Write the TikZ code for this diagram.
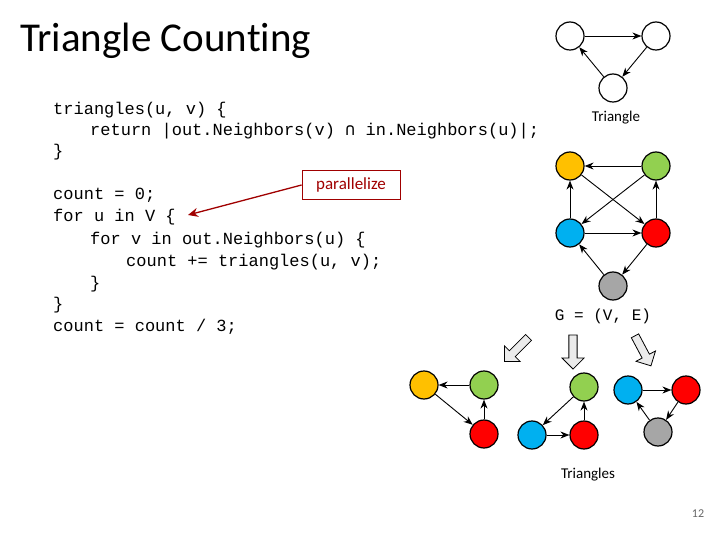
\documentclass[tikz,border=0pt]{standalone}
\usepackage{fontspec}
\setmainfont[Ligatures=NoCommon]{Carlito}
\setmonofont{Liberation Mono}
\newfontfamily\capfont{DejaVu Sans Mono}
\usetikzlibrary{arrows.meta,shapes.arrows}
\definecolor{cyel}{HTML}{FFC000}
\definecolor{cgrn}{HTML}{92D050}
\definecolor{cblu}{HTML}{00B0F0}
\definecolor{cred}{HTML}{FF0000}
\definecolor{cgry}{HTML}{A6A6A6}
\definecolor{dred}{HTML}{A00000}
\begin{document}
\begin{tikzpicture}[x=1pt,y=-1pt,
  vtx/.style={circle,draw=black,line width=1.2pt,minimum size=28pt,inner sep=0pt},
  ed/.style={-{Stealth[length=9pt,width=7pt]},line width=0.9pt},
  code/.style={anchor=base west,inner sep=0pt,font=\ttfamily\fontsize{17}{18}\selectfont},
  barrow/.style={single arrow,draw=black,fill=black!8,line width=0.8pt,minimum height=34pt,minimum width=22pt,single arrow head extend=4pt,inner sep=2pt}]
\useasboundingbox (0,0) rectangle (720,540);
\node[anchor=base west,inner sep=0pt,font=\fontsize{41}{43}\selectfont] (title) at (20,52) {Triangle Counting};
\node[code] (c1) at (53,115) {triangles(u, v) \{};
\node[code] (c2) at (90,136) {return |out.Neighbors(v) {\capfont ∩} in.Neighbors(u)|;};
\node[code] (c3) at (53,157) {\}};
\node[code] (c4) at (53,200) {count = 0;};
\node[code] (c5) at (53,222) {for u in V \{};
\node[code] (c6) at (90,244) {for v in out.Neighbors(u) \{};
\node[code] (c7) at (126,266) {count += triangles(u, v);};
\node[code] (c8) at (90,288) {\}};
\node[code] (c9) at (53,309) {\}};
\node[code] (c10) at (53,331) {count = count / 3;};
\node[draw=dred,line width=0.8pt,text=dred,font=\fontsize{17}{18}\selectfont,minimum width=98pt,minimum height=29pt,inner sep=1pt] (par) at (351,185) {parallelize};
\coordinate (pt) at (188,215);
\draw[-{Stealth[length=10pt,width=9pt]},dred,line width=1.3pt] (par.west) -- (pt);
% triangle
\node[vtx] (t1) at (570,36) {};
\node[vtx] (t2) at (656,36) {};
\node[vtx] (t3) at (613,88) {};
\draw[ed] (t1) -- (t2); \draw[ed] (t2) -- (t3); \draw[ed] (t3) -- (t1);
\node[font=\fontsize{15}{16}\selectfont] (tl) at (616,118) {Triangle};
% main graph
\node[vtx,fill=cyel] (y) at (570,166) {};
\node[vtx,fill=cgrn] (g) at (656,166) {};
\node[vtx,fill=cblu] (b) at (570,233) {};
\node[vtx,fill=cred] (r) at (656,233) {};
\node[vtx,fill=cgry] (s) at (613,286) {};
\draw[ed] (g) -- (y); \draw[ed] (y) -- (r); \draw[ed] (g) -- (b); \draw[ed] (b) -- (y);
\draw[ed] (r) -- (g); \draw[ed] (b) -- (r); \draw[ed] (r) -- (s); \draw[ed] (s) -- (b);
\node[anchor=base,inner sep=0pt,font=\ttfamily\fontsize{16}{17}\selectfont] (gl) at (603,320) {G = (V, E)};
% block arrows
\node[barrow,rotate=-135] (a1) at (518,348) {};
\node[barrow,rotate=-90] (a2) at (573,350) {};
\node[barrow,rotate=-62] (a3) at (642,349) {};
% bottom triangles
\node[vtx,fill=cyel] (y1) at (424,385) {};
\node[vtx,fill=cgrn] (g1) at (484,385) {};
\node[vtx,fill=cred] (r1) at (484,434) {};
\draw[ed] (g1) -- (y1); \draw[ed] (y1) -- (r1); \draw[ed] (r1) -- (g1);
\node[vtx,fill=cgrn] (g2) at (584,387) {};
\node[vtx,fill=cblu] (b2) at (532,435) {};
\node[vtx,fill=cred] (r2) at (584,435) {};
\draw[ed] (g2) -- (b2); \draw[ed] (b2) -- (r2); \draw[ed] (r2) -- (g2);
\node[vtx,fill=cblu] (b3) at (628,390) {};
\node[vtx,fill=cred] (r3) at (686,390) {};
\node[vtx,fill=cgry] (s3) at (658,432) {};
\draw[ed] (b3) -- (r3); \draw[ed] (r3) -- (s3); \draw[ed] (s3) -- (b3);
\node[font=\fontsize{15}{16}\selectfont] (trl) at (588,475) {Triangles};
\node[font=\fontsize{12}{13}\selectfont,text=black!60] (pg) at (698,514) {12};
\end{tikzpicture}
\end{document}
